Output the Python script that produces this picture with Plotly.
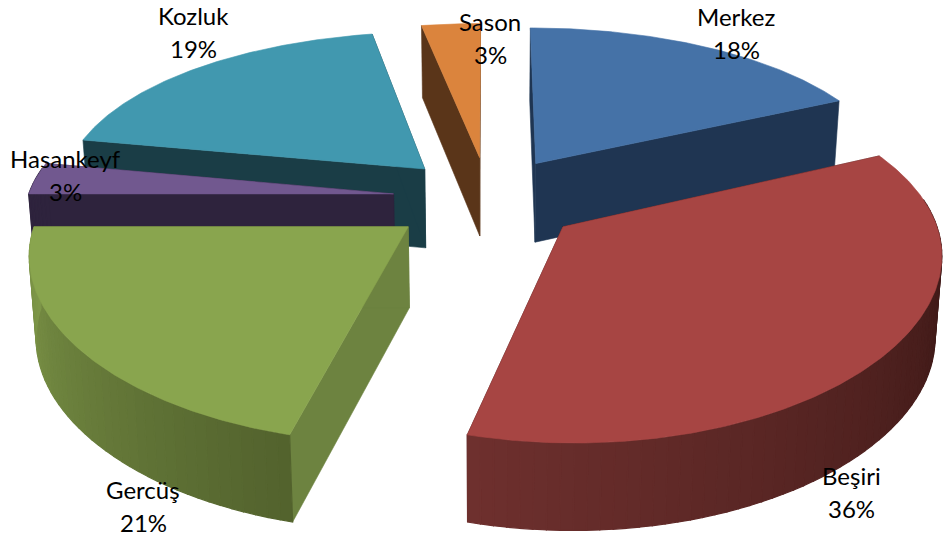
import math
import plotly.graph_objects as go

names = ["Merkez", "Beşiri", "Gercüş", "Hasankeyf", "Kozluk", "Sason"]
values = [18, 36, 21, 3, 19, 3]
top_colors = ["#4572A7", "#A74543", "#89A54E", "#71588F", "#4198AF", "#DB843D"]
cut_colors = ["#1F3552", "#3E1A18", "#6D8340", "#2E233D", "#1A3D46", "#5A3519"]
rim_light = ["#1F3552", "#6E302E", "#7F9849", "#2E233D", "#1A3D46", "#5A3519"]
rim_dark = ["#1F3552", "#3A1715", "#52622D", "#2E233D", "#1A3D46", "#5A3519"]
explode = [0.25, 0.26, 0.27, 0.26, 0.25, 0.25]
draw_order = [5, 0, 4, 3, 2, 1]
name_pos = [(736, 16), (851, 475), (143, 489), (65, 158), (193, 15), (490, 21)]
LINE_GAP = 33

CX, CY, AX, AY, PX, PY = 488, 198, 366, 169, 0.13, 0.168
DEPTH, DEPTH_P, CONVERGE = 80, 0.08, 0.015


def project(X, Y, drop=0.0):
    sx = CX + AX * X / (1 - PX * Y)
    sy = CY + AY * Y / (1 - PY * Y)
    if drop:
        sx = CX + (sx - CX) * (1 - CONVERGE * drop)
        sy += drop * DEPTH * (1 + DEPTH_P * Y)
    return sx, sy


def mix(c1, c2, f):
    a = [int(c1[i:i + 2], 16) for i in (1, 3, 5)]
    b = [int(c2[i:i + 2], 16) for i in (1, 3, 5)]
    return "#%02x%02x%02x" % tuple(round(p + (q - p) * f) for p, q in zip(a, b))


total = sum(values)
starts = []
acc = 0
for v in values:
    starts.append(acc / total * 2 * math.pi)
    acc += v

fig = go.Figure()


def poly(pts, color, width=0.6):
    xs = [p[0] for p in pts] + [pts[0][0]]
    ys = [p[1] for p in pts] + [pts[0][1]]
    fig.add_trace(go.Scatter(x=xs, y=ys, mode="lines", fill="toself", fillcolor=color,
                             line=dict(color=color, width=width), hoverinfo="skip", showlegend=False))


for i in draw_order:
    t0 = starts[i]
    t1 = t0 + values[i] / total * 2 * math.pi
    mid = (t0 + t1) / 2
    ex, ey = explode[i] * math.sin(mid), -explode[i] * math.cos(mid)
    n = max(6, int(values[i] * 2))

    def rim(t):
        return ex + math.sin(t), ey - math.cos(t)

    for t in (t0, t1):
        poly([project(ex, ey), project(*rim(t)), project(*rim(t), 1), project(ex, ey, 1)], cut_colors[i])
    for k in range(n):
        a = t0 + (t1 - t0) * k / n
        b = t0 + (t1 - t0) * (k + 1) / n
        if math.cos((a + b) / 2) > 0.15:
            continue
        f = (k + 0.5) / n
        if i == 1:
            f = max(0.0, (f - 0.2) / 0.8)
        poly([project(*rim(a)), project(*rim(b)), project(*rim(b), 1), project(*rim(a), 1)],
             mix(rim_dark[i], rim_light[i], f), 1.2)
    top = [project(ex, ey)]
    for k in range(n * 3 + 1):
        top.append(project(*rim(t0 + (t1 - t0) * k / (n * 3))))
    poly(top, top_colors[i])

for name, v, (x, y) in zip(names, values, name_pos):
    font = dict(family="Lato", size=24, color="#000000")
    fig.add_annotation(x=x, y=y, text=name, showarrow=False, font=font)
    fig.add_annotation(x=x, y=y + LINE_GAP, text=f"{round(v / total * 100)}%", showarrow=False, font=font)

fig.update_layout(width=943, height=537, margin=dict(l=0, r=0, t=0, b=0),
                  paper_bgcolor="#FFFFFF", plot_bgcolor="#FFFFFF", showlegend=False,
                  xaxis=dict(range=[0, 943], visible=False, fixedrange=True),
                  yaxis=dict(range=[537, 0], visible=False, fixedrange=True))
fig.write_html("out.html", config={"displayModeBar": False},
               post_script="document.body.style.margin='0';document.body.style.overflow='hidden';")
